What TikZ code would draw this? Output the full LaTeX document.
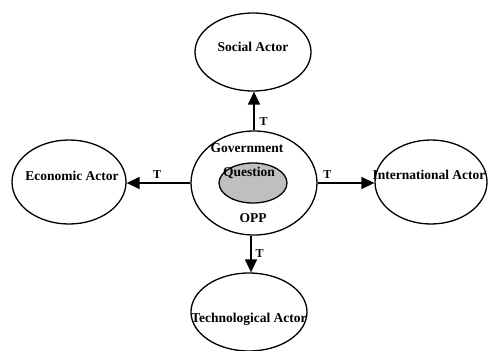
\documentclass[tikz,border=0pt]{standalone}
\usepackage{fontspec}
\setmainfont{Liberation Serif}
\usetikzlibrary{arrows.meta,shapes.geometric}
\begin{document}
\begin{tikzpicture}[x=1pt,y=-1pt,
  oval/.style={draw, ellipse, line width=1.3pt, inner sep=0pt},
  txt/.style={font=\fontsize{13.5}{15}\selectfont\bfseries, inner sep=0pt},
  lbl/.style={font=\fontsize{12}{14}\selectfont\bfseries, inner sep=0pt},
  arr/.style={line width=1.4pt, -{Triangle[length=13pt,width=12pt]}}]
\useasboundingbox (0,0) rectangle (488,351);
\node[oval, minimum width=116pt, minimum height=78pt] (social) at (253,52) {};
\node[oval, minimum width=114pt, minimum height=84pt] (econ) at (69,182) {};
\node[oval, minimum width=112pt, minimum height=84pt] (intl) at (431,182) {};
\node[oval, minimum width=116pt, minimum height=78pt] (tech) at (249,312) {};
\node[oval, minimum width=126pt, minimum height=104pt] (gov) at (254,183) {};
\node[oval, fill=black!25, minimum width=68pt, minimum height=40pt] (quest) at (253,183) {};
\node[txt] (socialt) at (253,47) {Social Actor};
\node[txt] (econt) at (72,176) {Economic Actor};
\node[txt] (intlt) at (429,175) {International Actor};
\node[txt] (techt) at (249,319) {Technological Actor};
\node[txt] (govt) at (247,148) {Government};
\node[txt] (questt) at (249,173) {Question};
\node[txt] (oppt) at (253,218) {OPP};
\draw[arr] (gov.north) -- (gov.north |- social.south) node[lbl, pos=0.22, right=5pt] (t1) {T};
\draw[arr] (gov.west) -- (gov.west -| econ.east) node[lbl, pos=0.52, above=4pt] (t2) {T};
\draw[arr] (gov.east) -- (gov.east -| intl.west) node[lbl, pos=0.17, above=4pt] (t3) {T};
\draw[arr] ([xshift=-3pt]gov.south) -- ([xshift=-3pt]gov.south |- tech.north) node[lbl, pos=0.5, right=4pt] (t4) {T};
\end{tikzpicture}
\end{document}
